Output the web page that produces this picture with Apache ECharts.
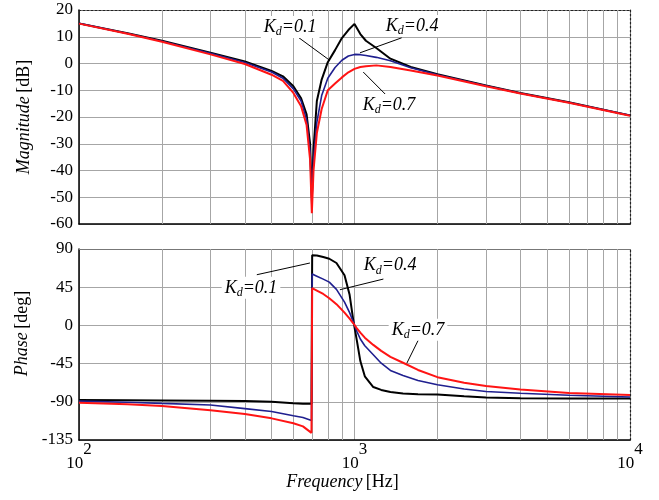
<!DOCTYPE html>
<html><head><meta charset="utf-8">
<script src="https://cdn.jsdelivr.net/npm/echarts@6/dist/echarts.min.js"></script>
<style>html,body{margin:0;padding:0;background:#fff}#c{width:659px;height:500px}</style>
</head><body><div id="c"></div>
<script>
// ---------- DATA ----------
const freqMag = [100,150,200,300,400,500,550,600,640,670,690,700,710,730,760,800,850,900,950,1000,1050,1100,1200,1350,1600,2000,3000,4000,6000,10000];
const magK01 = [15,11.3,8.5,4.0,0.8,-2.8,-4.8,-8.5,-13,-19,-30,-50,-32,-14,-6,0.5,5,9.5,12.5,14.8,11,8.5,5.8,1.8,-1.3,-4,-8.2,-11,-14.5,-19.4];
const magK04 = [15,11.2,8.3,3.8,0.4,-3.2,-5.5,-9.5,-14,-21,-33,-53,-36,-22,-12,-5.5,-1.5,1.2,2.8,3.4,3.3,3.0,2.3,1.0,-1.6,-4.2,-8.3,-11.1,-14.6,-19.4];
const magK07 = [14.9,11.1,8.1,3.4,-0.2,-4.2,-6.5,-11,-16,-23,-36,-56,-40,-26,-17,-10,-7.5,-5.2,-3.3,-2,-1.3,-1,-0.7,-1.3,-2.6,-4.5,-8.5,-11.2,-14.7,-19.5];

const freqPhase = [100,150,200,300,400,500,600,650,698,702,730,770,810,860,920,960,990,1020,1050,1090,1170,1250,1350,1500,1700,2000,2500,3000,4000,6000,10000];
const phaseK01 = [-88,-88.2,-88.4,-88.8,-89.2,-89.8,-91.8,-92.3,-92.3,82.5,82.3,80.5,78.5,73.5,59,36,6,-18,-42,-60,-72.6,-76,-78.5,-80.3,-81,-81.5,-83.5,-85,-85.8,-86,-86];
const phaseK04 = [-89.2,-90.5,-91.9,-93.8,-98,-101.5,-106.4,-108.5,-112,60.5,58,54.5,51,42.5,27.5,15,4,-7,-16,-24,-34.5,-44.5,-53,-59,-65,-70,-75,-77.8,-80,-82.3,-84.3];
const phaseK07 = [-91.1,-93,-95,-99.9,-104.5,-109.5,-115.2,-119,-126.6,43.8,41,37,32,25,15,8,2.5,-3.5,-8.5,-14.5,-23,-30,-37,-44,-52.5,-61,-67.5,-71.5,-75.5,-79.5,-82];

const kdValues = ['0.1','0.4','0.7'];
const magTicks = [-60,-50,-40,-30,-20,-10,0,10,20];
const phaseTicks = [-135,-90,-45,0,45,90];
const decadeTicks = [100,1000,10000];
const decadeExponents = ['2','3','4'];
const minorFreqs = [200,300,400,500,600,700,800,900,2000,3000,4000,5000,6000,7000,8000,9000];

// ---------- ANNOTATION ANCHORS (data coordinates) ----------
const magLabelAt = [[584,13.6],[1618,14.0],[1334,-15.5]];
const magLeaderAt = [[[625,9.8],[815,1.1]],[[1483,9.6],[1047,4]],[[1076,-3.2],[1309,-12]]];
const phLabelAt = [[421,44.3],[1346,70.3],[1700,-5.2]];
const phLeaderAt = [[[442,59.7],[689,73.5]],[[1273,54.6],[885,42]],[[1706,-17],[1549,-44.5]]];

// ---------- STYLE ----------
const FONT = 'Liberation Serif, DejaVu Serif, serif';
const colors = ['#000000','#1f1f8f','#ff1414'];
const widths = [2,1.6,2];
const gridColor = '#a6a6a6';

function pairs(fs, vs){ return fs.map((f,i)=>[f, vs[i]]); }

const kdRich = {
  k:{fontFamily:FONT,fontStyle:'italic',fontSize:18,lineHeight:22,color:'#000'},
  d:{fontFamily:FONT,fontStyle:'italic',fontSize:12,lineHeight:12,verticalAlign:'bottom',color:'#000'},
  r:{fontFamily:FONT,fontStyle:'italic',fontSize:18,lineHeight:22,color:'#000'}
};

function annotationSeries(xi, yi, labelAt, leaderAt){
  return {
    type:'line', data:[], xAxisIndex:xi, yAxisIndex:yi, z:10, silent:true,
    markLine:{silent:true, symbol:['none','none'], z:10, animation:false,
      label:{show:false}, lineStyle:{color:'#000',width:1,type:'solid'},
      data: leaderAt.map(p=>[{coord:p[0]},{coord:p[1]}])},
    markPoint:{silent:true, symbol:'circle', symbolSize:1, z:11, animation:false,
      itemStyle:{color:'rgba(0,0,0,0)'},
      label:{show:true, position:'inside', backgroundColor:'#fff', padding:[0,3,0,3],
        rich:kdRich,
        formatter:(p)=>'{k|K}{d|d}{r|=' + kdValues[p.dataIndex] + '}'},
      data: labelAt.map(p=>({coord:p}))}
  };
}

function gridLineSeries(xi, yi){
  return {type:'line', data:[], xAxisIndex:xi, yAxisIndex:yi, z:1, silent:true,
    markLine:{silent:true, symbol:['none','none'], z:1, animation:false, label:{show:false},
      lineStyle:{color:gridColor,width:1,type:'solid'},
      data:minorFreqs.map(f=>({xAxis:f}))}};
}

const chart = echarts.init(document.getElementById('c'), null, {renderer:'canvas'});

const baseX = {type:'log', logBase:10, min:100, max:10000,
  axisTick:{show:false}, splitLine:{show:true,lineStyle:{color:gridColor,width:1}}};

const option = {
  animation:false,
  backgroundColor:'#fff',
  grid:[
    {left:79, top:10, width:551, height:214},
    {left:79, top:249, width:551, height:191}
  ],
  xAxis:[
    Object.assign({}, baseX, {gridIndex:0, position:'bottom', axisLabel:{show:false},
      axisLine:{show:true,onZero:false,lineStyle:{color:'#000',width:1.5}}}),
    Object.assign({}, baseX, {gridIndex:1, position:'bottom',
      axisLine:{show:true,onZero:false,lineStyle:{color:'#000',width:1.5}},
      axisLabel:{show:true, margin:1, color:'#000',
        formatter:(v)=>{const i=decadeTicks.indexOf(Math.round(v)); return i<0?'':'{b|10}{s|'+decadeExponents[i]+'}';},
        rich:{b:{fontFamily:FONT,fontSize:17,lineHeight:31,verticalAlign:'bottom',color:'#000'},
              s:{fontFamily:FONT,fontSize:17,lineHeight:31,verticalAlign:'top',color:'#000'}}},
      name:'{i|Frequency} {n|[Hz]}', nameLocation:'middle', nameGap:30,
      nameTextStyle:{padding:[0,24,0,0], rich:{i:{fontFamily:FONT,fontStyle:'italic',fontSize:18,color:'#000'},n:{fontFamily:FONT,fontSize:18,color:'#000'}}}}),
    Object.assign({}, baseX, {gridIndex:0, position:'top', axisLabel:{show:false}, splitLine:{show:false},
      axisLine:{show:true,onZero:false,lineStyle:{color:'#222',width:1.2,type:[2,2]}}}),
    Object.assign({}, baseX, {gridIndex:1, position:'top', axisLabel:{show:false}, splitLine:{show:false},
      axisLine:{show:true,onZero:false,lineStyle:{color:'#777',width:1}}})
  ],
  yAxis:[
    {type:'value', gridIndex:0, min:magTicks[0], max:magTicks[magTicks.length-1], interval:10,
      axisLine:{show:true,onZero:false,lineStyle:{color:'#000',width:1.5}}, axisTick:{show:false},
      splitLine:{show:true,lineStyle:{color:gridColor,width:1}},
      axisLabel:{margin:6,color:'#000',fontFamily:FONT,fontSize:17},
      name:'{i|Magnitude} {n|[dB]}', nameLocation:'middle', nameRotate:90, nameGap:46,
      nameTextStyle:{rich:{i:{fontFamily:FONT,fontStyle:'italic',fontSize:18,color:'#000'},n:{fontFamily:FONT,fontSize:18,color:'#000'}}}},
    {type:'value', gridIndex:1, min:phaseTicks[0], max:phaseTicks[phaseTicks.length-1], interval:45,
      axisLine:{show:true,onZero:false,lineStyle:{color:'#000',width:1.5}}, axisTick:{show:false},
      splitLine:{show:true,lineStyle:{color:gridColor,width:1}},
      axisLabel:{margin:6,color:'#000',fontFamily:FONT,fontSize:17},
      name:'{i|Phase} {n|[deg]}', nameLocation:'middle', nameRotate:90, nameGap:46,
      nameTextStyle:{padding:[0,0,0,22], rich:{i:{fontFamily:FONT,fontStyle:'italic',fontSize:18,color:'#000'},n:{fontFamily:FONT,fontSize:18,color:'#000'}}}},
    {type:'value', gridIndex:0, position:'right', min:-60, max:20, interval:10,
      axisLabel:{show:false}, axisTick:{show:false}, splitLine:{show:false},
      axisLine:{show:true,onZero:false,lineStyle:{color:'#222',width:1.2,type:[2,2]}}},
    {type:'value', gridIndex:1, position:'right', min:-135, max:90, interval:45,
      axisLabel:{show:false}, axisTick:{show:false}, splitLine:{show:false},
      axisLine:{show:true,onZero:false,lineStyle:{color:'#222',width:1.2,type:[2,2]}}}
  ],
  series:[
    gridLineSeries(0,0),
    gridLineSeries(1,1),
    ...[magK01,magK04,magK07].map((vals,i)=>({
      type:'line', xAxisIndex:0, yAxisIndex:0, data:pairs(freqMag, vals), showSymbol:false, z:3+i,
      lineStyle:{color:colors[i], width:widths[i]}, itemStyle:{color:colors[i]}, silent:true
    })),
    ...[phaseK01,phaseK04,phaseK07].map((vals,i)=>({
      type:'line', xAxisIndex:1, yAxisIndex:1, data:pairs(freqPhase, vals), showSymbol:false, z:3+i,
      lineStyle:{color:colors[i], width:widths[i]}, itemStyle:{color:colors[i]}, silent:true
    })),
    annotationSeries(0,0,magLabelAt,magLeaderAt),
    annotationSeries(1,1,phLabelAt,phLeaderAt)
  ]
};
chart.setOption(option);
</script>
</body></html>
